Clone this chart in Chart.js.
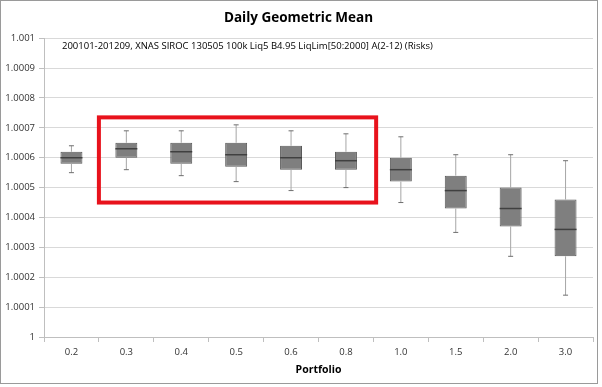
<!DOCTYPE html>
<html>
<head>
<meta charset="utf-8">
<script src="https://cdn.jsdelivr.net/npm/chart.js@4.4.0/dist/chart.umd.min.js"></script>
<style>
    body { margin: 0; background: #fff; }
    #wrap { position: relative; width: 602px; height: 387px; }
    #frame { position: absolute; left: 0; top: 0; width: 598px; height: 384px; border: 1.5px solid #9a9a9a; box-sizing: border-box; pointer-events: none; }
</style>
</head>
<body>
<div id="wrap">
    <canvas id="boxCanvas" width="602" height="387"></canvas>
    <div id="frame"></div>
</div>
<script>
// donnees
const portfolios = ['0.2', '0.3', '0.4', '0.5', '0.6', '0.8', '1.0', '1.5', '2.0', '3.0']
const whiskerLow = [1.00055, 1.00056, 1.00054, 1.00052, 1.00049, 1.00050, 1.00045, 1.00035, 1.00027, 1.00014]
const boxLow = [1.00058, 1.00060, 1.00058, 1.00057, 1.00056, 1.00056, 1.00052, 1.00043, 1.00037, 1.00027]
const medians = [1.00060, 1.00063, 1.00062, 1.00061, 1.00060, 1.00059, 1.00056, 1.00049, 1.00043, 1.00036]
const boxHigh = [1.00062, 1.00065, 1.00065, 1.00065, 1.00064, 1.00062, 1.00060, 1.00054, 1.00050, 1.00046]
const whiskerHigh = [1.00064, 1.00069, 1.00069, 1.00071, 1.00069, 1.00068, 1.00067, 1.00061, 1.00061, 1.00059]
const yTicks = [1, 1.0001, 1.0002, 1.0003, 1.0004, 1.0005, 1.0006, 1.0007, 1.0008, 1.0009, 1.001]

// cadre rouge: de 0.3 a 0.8
const highlight = { from: 0.5, to: 5.55, top: 1.000735, bottom: 1.00045 }
const subtitle = '200101-201209, XNAS SIROC 130505 100k Liq5 B4.95 LiqLim[50:2000] A(2-12) (Risks)'

const boxPlugin = {
    id: 'boxExtras',
    afterDatasetsDraw(chart) {
        const ctx = chart.ctx
        const x = chart.scales.x
        const y = chart.scales.y
        const meta = chart.getDatasetMeta(0)
        ctx.save()
        portfolios.forEach((p, i) => {
            const cx = x.getPixelForValue(i)
            const half = meta.data[i].width / 2
            // moustaches
            ctx.strokeStyle = '#a6a6a6'
            ctx.lineWidth = 1
            ctx.beginPath()
            ctx.moveTo(cx, y.getPixelForValue(whiskerHigh[i]))
            ctx.lineTo(cx, y.getPixelForValue(boxHigh[i]))
            ctx.moveTo(cx, y.getPixelForValue(boxLow[i]))
            ctx.lineTo(cx, y.getPixelForValue(whiskerLow[i]))
            ctx.stroke()
            ctx.strokeStyle = '#6e6e6e'
            ctx.beginPath()
            ctx.moveTo(cx - 2.5, y.getPixelForValue(whiskerHigh[i]))
            ctx.lineTo(cx + 2.5, y.getPixelForValue(whiskerHigh[i]))
            ctx.moveTo(cx - 2.5, y.getPixelForValue(whiskerLow[i]))
            ctx.lineTo(cx + 2.5, y.getPixelForValue(whiskerLow[i]))
            ctx.stroke()
            // mediane
            ctx.strokeStyle = '#404040'
            ctx.lineWidth = 1.5
            ctx.beginPath()
            ctx.moveTo(cx - half, y.getPixelForValue(medians[i]))
            ctx.lineTo(cx + half, y.getPixelForValue(medians[i]))
            ctx.stroke()
        })
        // cadre rouge
        ctx.strokeStyle = '#e8121c'
        ctx.lineWidth = 4
        const x0 = x.getPixelForValue(highlight.from)
        const x1 = x.getPixelForValue(highlight.to)
        const y0 = y.getPixelForValue(highlight.top)
        const y1 = y.getPixelForValue(highlight.bottom)
        ctx.strokeRect(x0, y0, x1 - x0, y1 - y0)
        // sous-titre
        ctx.fillStyle = '#000'
        ctx.font = '9.5px "Open Sans"'
        ctx.textBaseline = 'middle'
        ctx.fillText(subtitle, chart.chartArea.left + 18, 46)
        ctx.restore()
    }
}

function buildChart() {
    const canvas = document.getElementById('boxCanvas')
    new Chart(canvas, {
        type: 'bar',
        data: {
            labels: portfolios,
            datasets: [{
                label: 'Boites',
                data: portfolios.map((p, i) => [boxLow[i], boxHigh[i]]),
                backgroundColor: '#7f7f7f',
                borderColor: '#595959',
                borderWidth: 1,
                borderSkipped: false,
                barPercentage: 0.4,
                categoryPercentage: 1
            }]
        },
        options: {
            responsive: false,
            animation: false,
            layout: { padding: { left: 4, right: 9, top: 0, bottom: 11 } },
            plugins: {
                legend: { display: false },
                tooltip: { enabled: false },
                title: {
                    display: true,
                    text: 'Daily Geometric Mean',
                    color: '#000',
                    font: { family: 'Open Sans', size: 13.5, weight: 'bold' },
                    padding: { top: 10, bottom: 12 }
                }
            },
            scales: {
                x: {
                    offset: true,
                    grid: { offset: true, drawOnChartArea: false, drawTicks: true, tickLength: 5, color: '#bfbfbf' },
                    border: { color: '#bfbfbf' },
                    ticks: { color: '#333', font: { family: 'Open Sans', size: 9.5 }, padding: 5 },
                    title: { display: true, text: 'Portfolio', color: '#000', font: { family: 'Open Sans', size: 10.5, weight: 'bold' }, padding: { top: 0, bottom: 0 } }
                },
                y: {
                    min: 1,
                    max: 1.001,
                    afterBuildTicks: (scale) => { scale.ticks = yTicks.map(v => ({ value: v })) },
                    afterFit: (scale) => { scale.width = 40 },
                    grid: { color: '#d9d9d9', tickLength: 5, tickColor: '#bfbfbf' },
                    border: { color: '#bfbfbf' },
                    ticks: {
                        color: '#333',
                        font: { family: 'Open Sans', size: 9.5 },
                        padding: 4,
                        callback: (v) => String(Number(v.toFixed(4)))
                    }
                }
            }
        },
        plugins: [boxPlugin]
    })
}

buildChart()
</script>
</body>
</html>
